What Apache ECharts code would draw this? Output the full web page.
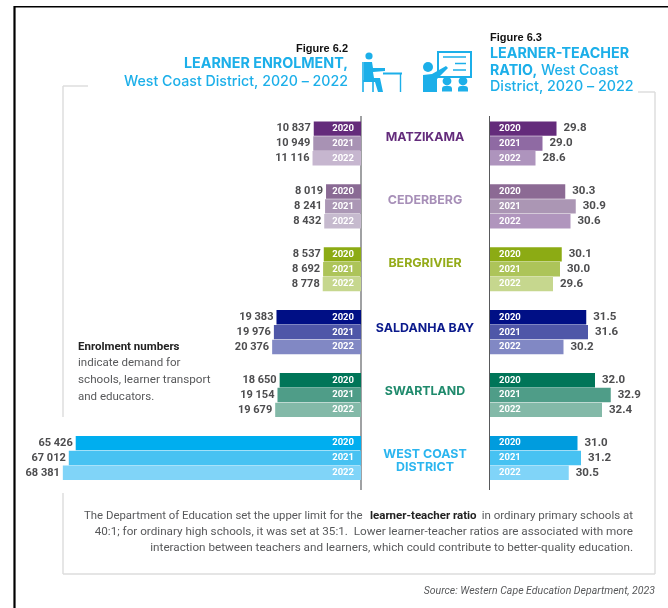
<!DOCTYPE html>
<html>
<head>
<meta charset="utf-8">
<style>html,body{margin:0;padding:0;background:#fff}#chart{width:668px;height:608px}</style>
<script src="https://cdn.jsdelivr.net/npm/echarts@6/dist/echarts.min.js"></script>
</head>
<body>
<div id="chart"></div>
<script>
const districts = ['MATZIKAMA', 'CEDERBERG', 'BERGRIVIER', 'SALDANHA BAY', 'SWARTLAND', 'WEST COAST\nDISTRICT'];
const years = ['2020', '2021', '2022'];
const enrolment2020 = [10837, 8019, 8537, 19383, 18650, 65426];
const enrolment2021 = [10949, 8241, 8692, 19976, 19154, 67012];
const enrolment2022 = [11116, 8432, 8778, 20376, 19679, 68381];
const ratio2020 = [29.8, 30.3, 30.1, 31.5, 32.0, 31.0];
const ratio2021 = [29.0, 30.9, 30.0, 31.6, 32.9, 31.2];
const ratio2022 = [28.6, 30.6, 29.6, 30.2, 32.4, 30.5];

const enrolment = [enrolment2020, enrolment2021, enrolment2022];
const ratio = [ratio2020, ratio2021, ratio2022];

// colours: [district][year]
const nameColors = ['#642c7c', '#a78fb8', '#94ab18', '#0b1a8c', '#1f8a6c', '#2bb5ef'];
const nameY = [137, 200, 263, 328, 391, 461];
const leftColors = [
  ['#642b7b', '#a892b4', '#c6b6cf'],
  ['#8a6a94', '#ab97b5', '#c6bace'],
  ['#8cab14', '#adc459', '#c6d78e'],
  ['#000f85', '#4f57a8', '#8188c4'],
  ['#007558', '#4f9d88', '#83b9a8'],
  ['#00aeef', '#47c2f2', '#80d4f8']
];
const rightColors = [
  ['#642b7b', '#8f6aa3', '#ae94bd'],
  ['#8c6a94', '#ab96b4', '#b095bd'],
  ['#8cab14', '#adc459', '#c6d78e'],
  ['#000f85', '#4f57a8', '#8188c4'],
  ['#007558', '#4f9d88', '#83b9a8'],
  ['#009cde', '#47c2f2', '#80d4f8']
];

const NUM_FONT = '"Roboto"';
const TITLE_FONT = '"Inter"';
const BLUE = '#1cafe9';
const GREY = '#58595b';
const FRAME = '#dcdcdc';

function fmtThousand(v) {
  return String(v).replace(/\B(?=(\d{3})+$)/g, ' ');
}

function barSeries(name, values, colors, xIdx, yIdx, pos, fmt, dist, size) {
  return {
    name: name, type: 'bar', xAxisIndex: xIdx, yAxisIndex: yIdx,
    barWidth: 14.4, barGap: '3%', silent: true,
    data: values.map((v, i) => ({ value: v, itemStyle: { color: colors[i] } })),
    label: {
      show: true, position: pos, distance: dist, formatter: p => fmt(p.value),
      fontFamily: NUM_FONT, fontWeight: 700, fontSize: size, color: '#4d4d4f'
    }
  };
}

// transparent bars on a second category axis carry the year text inside the bar
function yearSeries(name, values, xIdx, yIdx, pos, dist) {
  return {
    name: name, type: 'bar', xAxisIndex: xIdx, yAxisIndex: yIdx,
    barWidth: 14.4, barGap: '3%', silent: true, z: 5,
    data: values, itemStyle: { color: 'transparent' },
    label: {
      show: true, position: pos, distance: dist, formatter: name,
      fontFamily: NUM_FONT, fontWeight: 700, fontSize: 9.5, color: '#fff'
    }
  };
}

const series = [];
years.forEach((y, k) => {
  const lc = leftColors.map(r => r[k]);
  const rc = rightColors.map(r => r[k]);
  series.push(barSeries(y, enrolment[k], lc, 0, 0, 'left', fmtThousand, 3, 11));
  series.push(yearSeries(y, enrolment[k], 0, 1, 'insideRight', 7));
  series.push(barSeries(y, ratio[k], rc, 1, 2, 'right', v => v.toFixed(1), 7, 11.5));
  series.push(yearSeries(y, ratio[k], 1, 3, 'insideLeft', 9));
});

function catAxis(grid) {
  return {
    type: 'category', gridIndex: grid, inverse: true, data: districts,
    axisLine: { show: false }, axisTick: { show: false }, axisLabel: { show: false }
  };
}

function txt(x, y, text, align, font, color, weight, size, style) {
  return {
    type: 'text', x: x, y: y,
    style: {
      text: text, align: align, verticalAlign: 'middle', fill: color,
      font: (style || 'normal') + ' ' + (weight || 400) + ' ' + size + 'px ' + font
    }
  };
}
function line(x1, y1, x2, y2, color, w) {
  return { type: 'line', shape: { x1: x1, y1: y1, x2: x2, y2: y2 }, style: { stroke: color, lineWidth: w } };
}
function dot(x, y, r, fill) {
  return { type: 'circle', shape: { cx: x, cy: y, r: r }, style: { fill: fill } };
}
function poly(points, fill) {
  return { type: 'polygon', shape: { points: points }, style: { fill: fill } };
}

const deskIcon = [
  dot(369, 56, 3.6, BLUE),
  poly([[364, 62], [372, 62], [373, 68], [385, 68], [385, 71], [373, 72], [374, 78], [380, 78], [383, 92], [378, 92], [375, 82], [364, 82]], BLUE),
  line(363, 62, 363, 92, BLUE, 1.6),
  line(373, 82, 373, 92, BLUE, 1.6),
  line(363, 81, 375, 81, BLUE, 1.6),
  line(383, 73.5, 402, 73.5, BLUE, 2),
  line(400.5, 73, 400.5, 92, BLUE, 1.4)
];
const boardIcon = [
  { type: 'rect', shape: { x: 438, y: 52, width: 33, height: 25 }, style: { fill: 'none', stroke: BLUE, lineWidth: 2 } },
  line(443, 57, 466, 57, BLUE, 1.5),
  line(455, 63.5, 466, 63.5, BLUE, 1.5),
  line(453, 70, 466, 70, BLUE, 1.5),
  dot(428, 67, 5, BLUE),
  poly([[423, 75], [432, 74], [446, 66], [448, 68], [437, 79], [437, 92], [423, 92]], BLUE),
  dot(447, 81, 4.4, BLUE),
  dot(463, 81, 4.4, BLUE),
  { type: 'rect', shape: { x: 442, y: 86, width: 10, height: 5.5, r: [3, 3, 0, 0] }, style: { fill: BLUE } },
  { type: 'rect', shape: { x: 458, y: 86, width: 10, height: 5.5, r: [3, 3, 0, 0] }, style: { fill: BLUE } }
];

const districtLabels = districts.map((d, i) => ({
  type: 'text', x: 425, y: nameY[i],
  style: {
    text: d, align: 'center', verticalAlign: 'middle', fill: nameColors[i], lineHeight: 13,
    font: '700 12.4px ' + TITLE_FONT
  }
}));

const graphics = [
  // page border
  line(14.5, 6.7, 668, 6.7, '#000', 1.6),
  line(14.5, 6, 14.5, 608, '#000', 2.2),
  // frame
  line(63, 86, 88, 86, FRAME, 1.4),
  line(63, 86, 63, 417, FRAME, 1.4),
  line(63, 493, 63, 574, FRAME, 1.4),
  line(63, 574, 655, 574, FRAME, 1.4),
  line(655, 92, 655, 574, FRAME, 1.4),
  line(638, 92, 655, 92, FRAME, 1.4),
  // baselines
  line(361, 116, 361, 490, '#808285', 1.5),
  line(489.5, 116, 489.5, 490, '#58595b', 1),
  // titles
  txt(348, 49, 'Figure 6.2', 'right', '"Liberation Sans"', '#111', 700, 11),
  txt(348, 64, 'LEARNER ENROLMENT,', 'right', TITLE_FONT, BLUE, 700, 14.3),
  txt(348, 82, 'West Coast District, 2020 \u2013 2022', 'right', TITLE_FONT, BLUE, 500, 14.2),
  txt(490, 38, 'Figure 6.3', 'left', '"Liberation Sans"', '#111', 700, 11),
  txt(490, 54, 'LEARNER-TEACHER', 'left', TITLE_FONT, BLUE, 700, 14.3),
  {
    type: 'text', x: 490, y: 71,
    style: {
      text: '{b|RATIO,} {n|West Coast}', align: 'left', verticalAlign: 'middle', fill: BLUE,
      rich: {
        b: { fontFamily: 'Inter', fontWeight: 700, fontSize: 14.2, fill: BLUE },
        n: { fontFamily: 'Inter', fontWeight: 500, fontSize: 14.2, fill: BLUE }
      },
      font: '500 14.2px ' + TITLE_FONT
    }
  },
  txt(490, 87, 'District, 2020 \u2013 2022', 'left', TITLE_FONT, BLUE, 500, 14.3),
  // side note
  txt(78, 347, 'Enrolment numbers', 'left', NUM_FONT, '#222', 700, 11.5),
  txt(78, 363, 'indicate demand for', 'left', NUM_FONT, GREY, 400, 11.5),
  txt(78, 380, 'schools, learner transport', 'left', NUM_FONT, GREY, 400, 11.7),
  txt(78, 397, 'and educators.', 'left', NUM_FONT, GREY, 400, 11.5),
  // footer
  txt(633, 548, 'interaction between teachers and learners, which could contribute to better-quality education.', 'right', NUM_FONT, GREY, 400, 11.7),
  txt(633, 532, '40:1; for ordinary high schools, it was set at 35:1.  Lower learner-teacher ratios are associated with more', 'right', NUM_FONT, GREY, 400, 11.7),
  txt(633, 516, 'in ordinary primary schools at', 'right', NUM_FONT, GREY, 400, 11.5),
  txt(84, 516, 'The Department of Education set the upper limit for the', 'left', NUM_FONT, GREY, 400, 11.4),
  txt(370, 516, 'learner-teacher ratio', 'left', NUM_FONT, '#222', 700, 11.5),
  txt(655, 591, 'Source: Western Cape Education Department, 2023', 'right', NUM_FONT, GREY, 400, 10.5, 'italic')
].concat(deskIcon, boardIcon, districtLabels);

const option = {
  animation: false,
  backgroundColor: '#fff',
  grid: [
    { left: 61, top: 112, width: 300, height: 377.4 },
    { left: 490, top: 112, width: 175, height: 377.4 }
  ],
  xAxis: [
    { type: 'value', gridIndex: 0, inverse: true, min: 0, max: 68800, show: false },
    { type: 'value', gridIndex: 1, min: 26, max: 36, show: false }
  ],
  yAxis: [catAxis(0), catAxis(0), catAxis(1), catAxis(1)],
  series: series,
  graphic: graphics
};

echarts.init(document.getElementById('chart'), null, { renderer: 'canvas' }).setOption(option);
</script>
</body>
</html>
